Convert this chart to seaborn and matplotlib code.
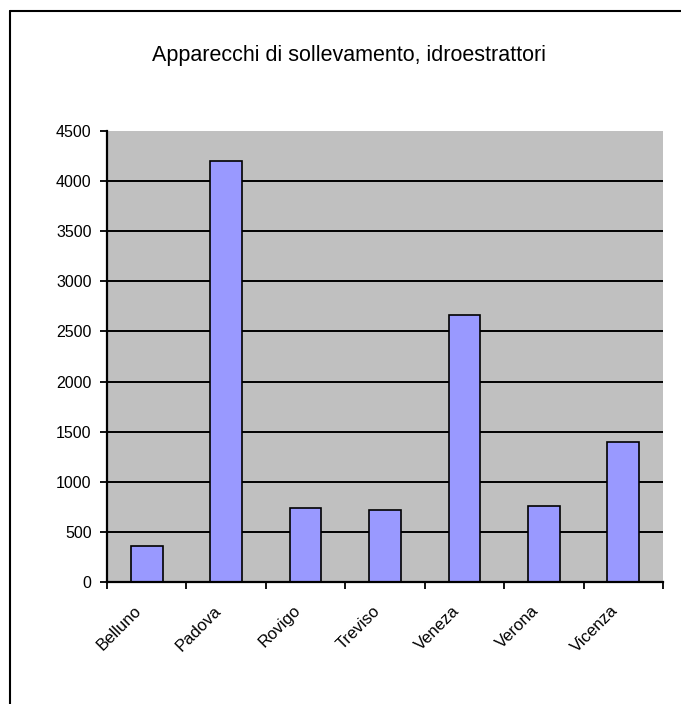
import matplotlib
matplotlib.use("Agg")
import matplotlib.pyplot as plt
import matplotlib.transforms as mtransforms
from matplotlib.lines import Line2D
import seaborn as sns
import pandas as pd

provinces = ["Belluno", "Padova", "Rovigo", "Treviso", "Veneza", "Verona", "Vicenza"]
values = [360, 4200, 740, 720, 2660, 760, 1400]
y_ticks = [0, 500, 1000, 1500, 2000, 2500, 3000, 3500, 4000, 4500]
title = "Apparecchi di sollevamento, idroestrattori"

sns.set_theme(style="white")
plt.rcParams["font.family"] = ["Liberation Sans", "DejaVu Sans"]

df = pd.DataFrame({"provincia": provinces, "valore": values})

fig = plt.figure(figsize=(6.81, 7.04), dpi=100)
fig.patch.set_facecolor("white")
ax = fig.add_axes([107 / 681, 1 - 582 / 704, (663 - 107) / 681, (582 - 131) / 704])

sns.barplot(data=df, x="provincia", y="valore", color="#9999FF", saturation=1,
            edgecolor="black", linewidth=1.2, width=0.4, ax=ax, zorder=3)

ax.set_facecolor("#C0C0C0")
ax.set_xlim(-0.5, len(provinces) - 0.5)
ax.set_ylim(0, 4500)
ax.set_yticks(y_ticks)
ax.set_yticklabels([str(v) for v in y_ticks])
ax.set_xlabel("")
ax.set_ylabel("")

ax.yaxis.grid(True, color="black", linewidth=1.4, zorder=1)
ax.set_axisbelow(True)
for sp in ["top", "right"]:
    ax.spines[sp].set_visible(False)
for sp in ["left", "bottom"]:
    ax.spines[sp].set_color("black")
    ax.spines[sp].set_linewidth(1.6)
    ax.spines[sp].set_zorder(4)

ax.tick_params(axis="y", which="major", direction="out", length=5, width=1.3,
               color="black", labelsize=11.5, pad=6, left=True, labelcolor="black")
# category boundaries as minor ticks on x
ax.set_xticks([i - 0.5 for i in range(len(provinces) + 1)], minor=True)
ax.tick_params(axis="x", which="minor", direction="out", length=5, width=1.3,
               color="black", bottom=True)
ax.tick_params(axis="x", which="major", length=0, pad=15, labelsize=12, labelcolor="black")

offset = mtransforms.ScaledTranslation(-13 / 100, 0, fig.dpi_scale_trans)
for lab in ax.get_xticklabels():
    lab.set_rotation(45)
    lab.set_ha("right")
    lab.set_va("top")
    lab.set_rotation_mode("anchor")
    lab.set_transform(lab.get_transform() + offset)

fig.canvas.draw()
gl = ax.yaxis.get_gridlines()
gl[-1].set_visible(False)

fig.text(349 / 681, 1 - 56 / 704, title, ha="center", va="center", fontsize=15.5, color="black")

# outer chart frame (left and top edges visible)
fig.add_artist(Line2D([9.5 / 681, 9.5 / 681], [0, 1 - 11 / 704], transform=fig.transFigure,
                      color="black", linewidth=1.5))
fig.add_artist(Line2D([9.5 / 681, 1], [1 - 11 / 704, 1 - 11 / 704], transform=fig.transFigure,
                      color="black", linewidth=1.5))

fig.savefig("out.png", dpi=100, facecolor="white")
